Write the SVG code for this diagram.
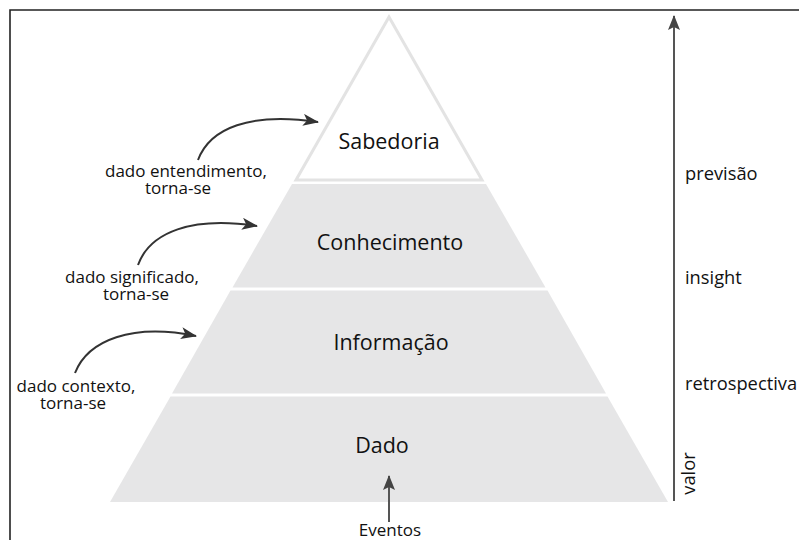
<svg xmlns="http://www.w3.org/2000/svg" width="799" height="540" viewBox="0 0 799 540">
<style>
.band{fill:#e6e6e7}
.lvl{font-family:"Open Sans","DejaVu Sans",sans-serif;font-size:21.5px;fill:#111;text-anchor:middle}
.lbl{font-family:"Open Sans","DejaVu Sans",sans-serif;font-size:17px;fill:#111;text-anchor:middle}
.rl{font-family:"Open Sans","DejaVu Sans",sans-serif;font-size:18.3px;fill:#111}
.curve{fill:none;stroke:#333;stroke-width:2}
</style>
<defs>
<marker id="ah" viewBox="0 0 16 12" refX="15" refY="6" markerWidth="16" markerHeight="12" markerUnits="userSpaceOnUse" orient="auto">
<path d="M0,0 L16,6 L0,12 L4,6 z" fill="#333"/>
</marker>
<marker id="av" viewBox="0 0 15 12" refX="14" refY="6" markerWidth="15" markerHeight="12" markerUnits="userSpaceOnUse" orient="auto">
<path d="M0,0 L15,6 L0,12 L3,6 z" fill="#444"/>
</marker>
</defs>
<rect width="799" height="540" fill="#fff"/>
<path d="M10,545 L10,10 L805,10" fill="none" stroke="#222" stroke-width="1.6"/>
<g id="sabedoria">
<polygon points="389,17 296,180 482,180" fill="#fff" stroke="#e3e3e3" stroke-width="3"/>
<text class="lvl" x="389" y="149">Sabedoria</text>
</g>
<g id="conhecimento">
<polygon class="band" points="292,184 486,184 545.5,287.5 232.5,287.5"/>
<text class="lvl" x="390" y="250">Conhecimento</text>
</g>
<g id="informacao">
<polygon class="band" points="230.5,290.5 547.5,290.5 606,393.5 172,393.5"/>
<text class="lvl" x="391" y="350">Informação</text>
</g>
<g id="dado">
<polygon class="band" points="170.5,396.5 607.5,396.5 668,502 110,502"/>
<text class="lvl" x="382" y="453">Dado</text>
</g>
<g id="eventos">
<text class="lbl" x="390" y="536">Eventos</text>
</g>
<g id="left-labels">
<text class="lbl" x="186" y="177">dado entendimento,</text>
<text class="lbl" x="178" y="193.5">torna-se</text>
<text class="lbl" x="132" y="283">dado significado,</text>
<text class="lbl" x="136" y="300">torna-se</text>
<text class="lbl" x="76" y="392">dado contexto,</text>
<text class="lbl" x="73" y="409">torna-se</text>
</g>
<g id="right-labels">
<text class="rl" x="685" y="180">previsão</text>
<text class="rl" x="685" y="284">insight</text>
<text class="rl" x="685" y="390">retrospectiva</text>
<text class="rl" transform="translate(695,473.5) rotate(-90)" text-anchor="middle">valor</text>
</g>
<g id="connectors">
<path class="curve" d="M198,160 C210,128 250,112 318,122" marker-end="url(#ah)"/>
<path class="curve" d="M138,265 C150,232 192,216 257,226" marker-end="url(#ah)"/>
<path class="curve" d="M75,373 C88,340 132,323 196,336" marker-end="url(#ah)"/>
<line x1="674" y1="501" x2="674" y2="16" stroke="#555" stroke-width="2" marker-end="url(#av)"/>
<line x1="389" y1="522" x2="389" y2="476" stroke="#555" stroke-width="2" marker-end="url(#av)"/>
</g>
</svg>
